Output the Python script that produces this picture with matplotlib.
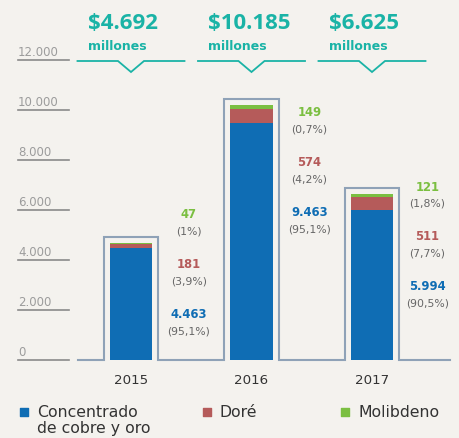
import matplotlib.pyplot as plt

# Ventas por producto (millones de US$)
years = ["2015", "2016", "2017"]
concentrado = [4463, 9463, 5994]
dore = [181, 574, 511]
molibdeno = [47, 149, 121]
totales = ["$4.692", "$10.185", "$6.625"]

pct_concentrado = ["(95,1%)", "(95,1%)", "(90,5%)"]
pct_dore = ["(3,9%)", "(4,2%)", "(7,7%)"]
pct_molibdeno = ["(1%)", "(0,7%)", "(1,8%)"]

yticks = [0, 2000, 4000, 6000, 8000, 10000, 12000]
ytick_labels = ["0", "2.000", "4.000", "6.000", "8.000", "10.000", "12.000"]

# y of the top value label next to each bar
label_top = [5800, 9880, 6920]

BG = "#f4f2ee"
C_BLUE = "#0f6db4"
C_RED = "#b55b5a"
C_GREEN = "#7bbf41"
C_TEAL = "#1ab3a6"
C_FRAME = "#8fa2b7"
C_GRID = "#8a8a8a"

plt.rcParams['font.family'] = ['DejaVu Sans']

fig = plt.figure(figsize=(4.59, 4.38), dpi=100, facecolor=BG)
ax = fig.add_axes([0, 0, 1, 1])
ax.set_facecolor(BG)
ax.set_xlim(-1.087, 2.722)
ax.set_ylim(-3120, 14400)
ax.axis("off")

x = list(range(len(years)))
w = 0.349
ax.bar(x, concentrado, w, color=C_BLUE, zorder=3)
bottom2 = concentrado
ax.bar(x, dore, w, bottom=bottom2, color=C_RED, zorder=3)
bottom3 = [a + b for a, b in zip(concentrado, dore)]
ax.bar(x, molibdeno, w, bottom=bottom3, color=C_GREEN, zorder=3)
tops = [a + b for a, b in zip(bottom3, molibdeno)]

# frame drawn around each bar, joined along the baseline
pad_x, pad_y = 0.05, 240
px, py = [-0.44], [0]
for xi, t in zip(x, tops):
    l, r = xi - w / 2 - pad_x, xi + w / 2 + pad_x
    px += [l, l, r, r]
    py += [0, t + pad_y, t + pad_y, 0]
px.append(2.647)
py.append(0)
ax.plot(px, py, color=C_FRAME, lw=1.5, solid_joinstyle="miter", zorder=2)

# y labels with short underlines
for v, lab in zip(yticks, ytick_labels):
    ax.plot([-0.938, -0.515], [v, v], color=C_GRID, lw=1.2)
    ax.text(-0.938, v + 160, lab, fontsize=8.5, color="#9c9c9c", va="baseline", ha="left")

# year labels
for xi, yr in zip(x, years):
    ax.text(xi, -840, yr, fontsize=9.6, color="#333333", ha="center", va="center")

# segment value labels
lx_off = [0.48, 0.48, 0.46]
for i in x:
    lx = i + lx_off[i]
    t = label_top[i]
    groups = [(str(molibdeno[i]), pct_molibdeno[i], C_GREEN),
              (f"{dore[i]}", pct_dore[i], C_RED),
              (f"{concentrado[i]:,}".replace(",", "."), pct_concentrado[i], C_BLUE)]
    for k, (val, pct, col) in enumerate(groups):
        yy = t - 2000 * k
        ax.text(lx, yy, val, fontsize=8.4, fontweight="bold", color=col,
                ha="center", va="center")
        ax.text(lx, yy - 660, pct, fontsize=7.8, color="#666666",
                ha="center", va="center")

# total callouts with notch
for xi, tot in zip(x, totales):
    ax.text(xi - 0.36, 13240, tot, fontsize=16, fontweight="bold", color=C_TEAL,
            ha="left", va="baseline", family="Open Sans")
    ax.text(xi - 0.36, 12400, "millones", fontsize=9, fontweight="bold", color=C_TEAL,
            ha="left", va="baseline")
    cx = [xi - 0.444, xi - 0.108, xi, xi + 0.108, xi + 0.444]
    cy = [11960, 11960, 11520, 11960, 11960]
    ax.plot(cx, cy, color=C_TEAL, lw=1.3, solid_joinstyle="miter")

# legend
legend_items = [(["Concentrado", "de cobre y oro"], C_BLUE, -0.884),
                (["Doré"], C_RED, 0.631),
                (["Molibdeno"], C_GREEN, 1.78)]
for lines, col, lx in legend_items:
    ax.scatter([lx], [-2080], marker="s", s=33, color=col, zorder=4)
    for k, line in enumerate(lines):
        ax.text(lx + 0.104, -2280 - 640 * k, line, fontsize=11.3, color="#333333",
                ha="left", va="baseline")

fig.savefig("out.png", dpi=100, facecolor=BG)
